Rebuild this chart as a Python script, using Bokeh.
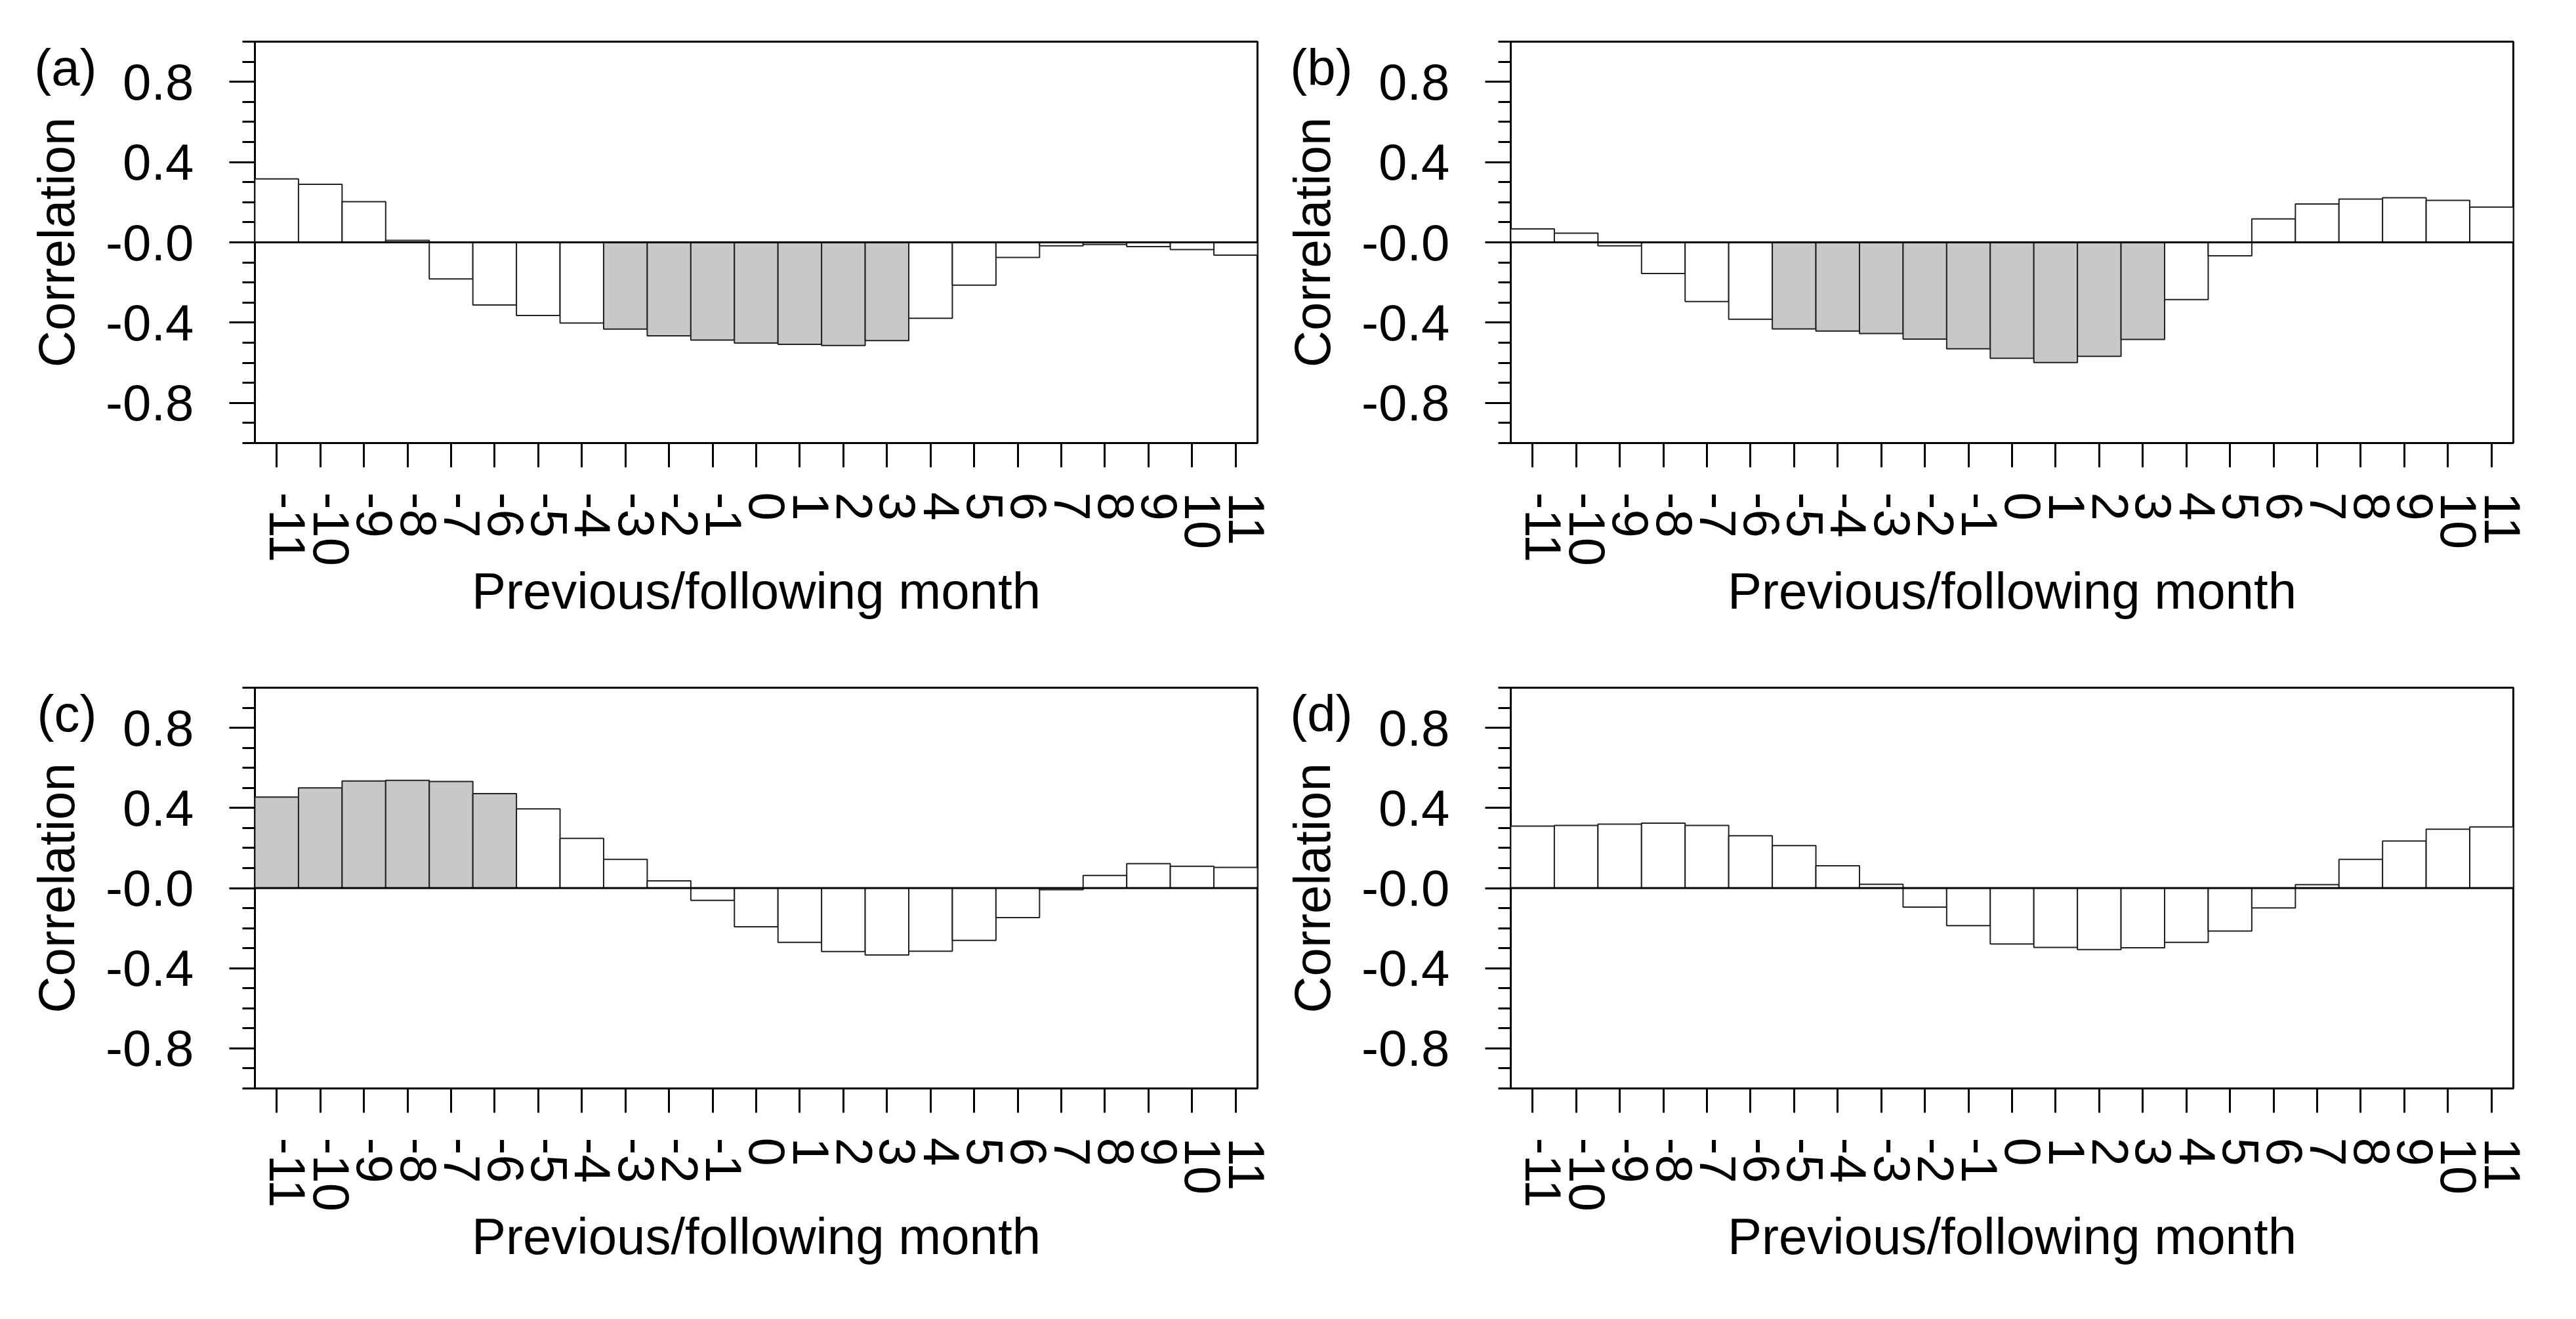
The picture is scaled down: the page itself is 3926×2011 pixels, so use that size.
from bokeh.plotting import figure
from bokeh.models import Range1d, FixedTicker, Span, LinearAxis, ColumnDataSource
from bokeh.layouts import column, row
from bokeh.embed import file_html
from bokeh.resources import INLINE

# ---------------- data ----------------
months = [-11, -10, -9, -8, -7, -6, -5, -4, -3, -2, -1, 0, 1, 2, 3, 4, 5, 6, 7, 8, 9, 10, 11]

corr_a = [0.316, 0.289, 0.203, 0.010, -0.182, -0.312, -0.364, -0.402, -0.432, -0.466,
          -0.487, -0.502, -0.508, -0.514, -0.489, -0.378, -0.213, -0.075, -0.017, -0.011,
          -0.021, -0.036, -0.064]
corr_b = [0.067, 0.046, -0.017, -0.155, -0.295, -0.383, -0.431, -0.442, -0.454, -0.482,
          -0.530, -0.578, -0.599, -0.568, -0.484, -0.285, -0.067, 0.117, 0.191, 0.216,
          0.222, 0.209, 0.176]
corr_c = [0.454, 0.500, 0.534, 0.538, 0.532, 0.471, 0.395, 0.248, 0.143, 0.036,
          -0.061, -0.193, -0.271, -0.317, -0.334, -0.315, -0.261, -0.147, -0.008, 0.063,
          0.122, 0.109, 0.103]
corr_d = [0.309, 0.313, 0.319, 0.324, 0.313, 0.261, 0.212, 0.111, 0.019, -0.095,
          -0.187, -0.279, -0.296, -0.307, -0.298, -0.271, -0.214, -0.099, 0.017, 0.143,
          0.235, 0.294, 0.305]

# months whose bars are shaded (significant)
sig_a = [-3, -2, -1, 0, 1, 2, 3]
sig_b = [-5, -4, -3, -2, -1, 0, 1, 2, 3]
sig_c = [-11, -10, -9, -8, -7, -6]
sig_d = []

panel_tags = ["(a)", "(b)", "(c)", "(d)"]

y_ticks = [-0.8, -0.4, 0.0, 0.4, 0.8]
y_tick_labels = ["-0.8", "-0.4", "-0.0", "0.4", "0.8"]
y_minor_ticks = [-1.0, -0.9, -0.8, -0.7, -0.6, -0.5, -0.4, -0.3, -0.2, -0.1, 0.0,
                 0.1, 0.2, 0.3, 0.4, 0.5, 0.6, 0.7, 0.8, 0.9, 1.0]

x_title = "Previous/following month"
y_title = "Correlation"

# ---------------- style ----------------
FONT = "Liberation Sans"
FS = "78px"
GRAY = "#c8c8c8"
LABEL_SHIFT = 0.25    # tick labels sit slightly right of their tick marks
TAG_Y = 0.871         # vertical centre of the panel tag, in correlation units
TAG_STANDOFF = -108   # pulls the tag in over the y-axis title area


def make_panel(values, sig, tag, width, height, mbl, mbr, mbt, mbb):
    p = figure(width=width, height=height,
               x_range=Range1d(-11.5, 11.5), y_range=Range1d(-1.0, 1.0),
               output_backend="svg", toolbar_location=None,
               min_border_left=mbl, min_border_right=mbr,
               min_border_top=mbt, min_border_bottom=mbb)
    p.grid.visible = False
    p.background_fill_color = "white"
    p.border_fill_color = "white"
    p.outline_line_color = "black"
    p.outline_line_width = 3

    src = ColumnDataSource(dict(
        x=months, top=values,
        fill=[GRAY if m in sig else "white" for m in months]))
    p.vbar(x="x", top="top", bottom=0, width=1.0, source=src,
           fill_color="fill", line_color="#222222", line_width=2)

    p.add_layout(Span(location=0, dimension="width",
                      line_color="black", line_width=3))

    # x axis: tick marks at the months (minor ticks), labels (major) shifted
    xa = p.xaxis[0]
    xa.ticker = FixedTicker(ticks=[m + LABEL_SHIFT for m in months],
                            minor_ticks=months)
    xa.major_label_overrides = {m + LABEL_SHIFT: str(m) for m in months}
    xa.major_tick_line_color = None
    xa.major_tick_out = 0
    xa.major_tick_in = 0
    xa.minor_tick_out = 37
    xa.minor_tick_in = 0
    xa.minor_tick_line_width = 3
    xa.minor_tick_line_color = "black"
    xa.axis_line_color = None
    xa.major_label_orientation = "vertical"
    xa.major_label_standoff = 38
    xa.major_label_text_font = FONT
    xa.major_label_text_font_size = FS
    xa.major_label_text_color = "black"
    xa.axis_label = x_title
    xa.axis_label_text_font = FONT
    xa.axis_label_text_font_size = FS
    xa.axis_label_text_font_style = "normal"
    xa.axis_label_text_color = "black"
    xa.axis_label_standoff = -9

    ya = p.yaxis[0]
    ya.ticker = FixedTicker(ticks=y_ticks, minor_ticks=y_minor_ticks)
    ya.major_label_overrides = dict(zip(y_ticks, y_tick_labels))
    ya.major_tick_out = 39
    ya.major_tick_in = 0
    ya.major_tick_line_width = 3
    ya.major_tick_line_color = "black"
    ya.minor_tick_out = 19
    ya.minor_tick_in = 0
    ya.minor_tick_line_width = 3
    ya.minor_tick_line_color = "black"
    ya.axis_line_color = None
    ya.major_label_standoff = 54
    ya.major_label_text_font = FONT
    ya.major_label_text_font_size = FS
    ya.major_label_text_color = "black"
    ya.axis_label = y_title
    ya.axis_label_text_font = FONT
    ya.axis_label_text_font_size = FS
    ya.axis_label_text_font_style = "normal"
    ya.axis_label_text_color = "black"
    ya.axis_label_standoff = 28

    # panel tag "(a)".. as the single label of an outer, line-less left axis
    tag_axis = LinearAxis(ticker=FixedTicker(ticks=[TAG_Y], minor_ticks=[]),
                          major_label_overrides={TAG_Y: tag},
                          axis_line_color=None,
                          major_tick_line_color=None, major_tick_out=0, major_tick_in=0,
                          minor_tick_line_color=None, minor_tick_out=0, minor_tick_in=0,
                          major_label_standoff=TAG_STANDOFF,
                          major_label_text_font=FONT,
                          major_label_text_font_size=FS,
                          major_label_text_color="black")
    p.add_layout(tag_axis, "left")
    return p


pa = make_panel(corr_a, sig_a, panel_tags[0], 1952, 997, 388, 36, 63, 322)
pb = make_panel(corr_b, sig_b, panel_tags[1], 1958, 997, 350, 80, 63, 322)
pc = make_panel(corr_c, sig_c, panel_tags[2], 1952, 998, 388, 36, 51, 336)
pd = make_panel(corr_d, sig_d, panel_tags[3], 1958, 998, 350, 80, 51, 336)

layout = column(row(pa, pb), row(pc, pd))

with open("out.html", "w") as f:
    f.write(file_html(layout, INLINE, title="Correlation panels"))
